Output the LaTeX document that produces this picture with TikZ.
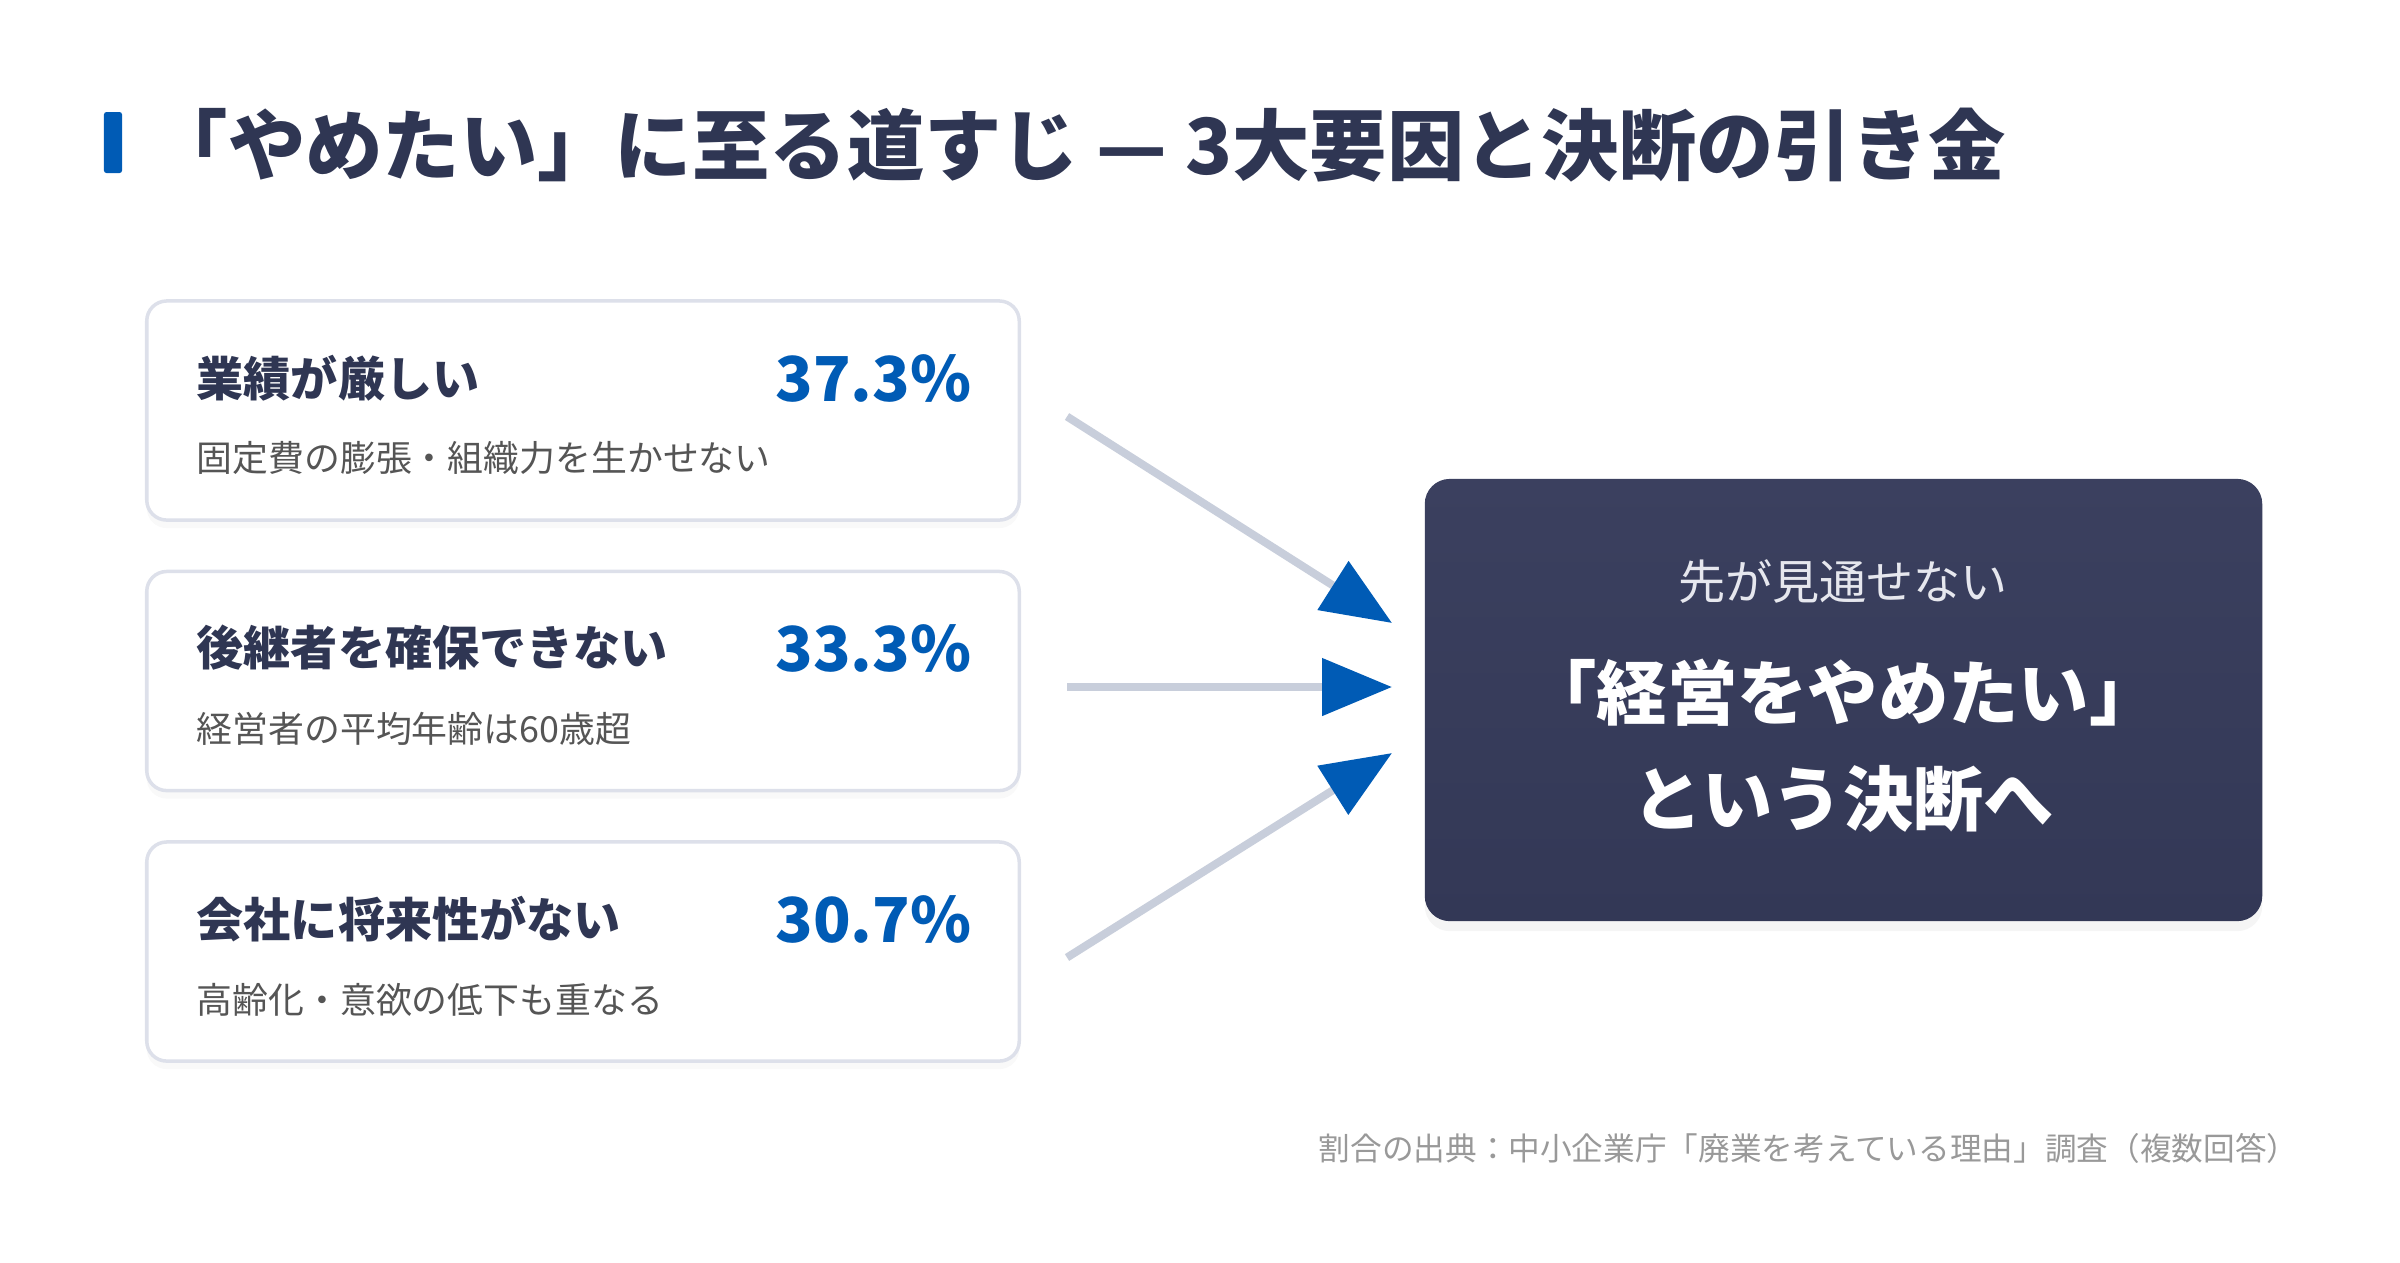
\documentclass[tikz,border=0pt]{standalone}
\usepackage{fontspec}
\setmainfont{Noto Sans CJK JP}
\usetikzlibrary{arrows.meta,shadows,positioning,calc}

\definecolor{navy}{HTML}{2F3653}
\definecolor{accent}{HTML}{005BB5}
\definecolor{cardline}{HTML}{DDE0EA}
\definecolor{flowgray}{HTML}{C8CEDB}
\definecolor{subgray}{HTML}{555555}
\definecolor{notegray}{HTML}{999999}
\definecolor{boxtop}{HTML}{3B405F}
\definecolor{boxbot}{HTML}{333856}
\definecolor{boxsub}{HTML}{E6E7EE}

\tikzset{
  card/.style={draw=cardline, line width=0.035cm, fill=white, rounded corners=0.2cm,
    minimum width=8.72cm, minimum height=2.19cm,
    drop shadow={opacity=0.05, shadow xshift=0pt, shadow yshift=-0.08cm}},
  cardtitle/.style={anchor=west, inner sep=0pt, text=navy, font=\bfseries\fontsize{13.4pt}{16pt}\selectfont},
  cardsub/.style={anchor=west, inner sep=0pt, text=subgray, font=\fontsize{10.2pt}{12pt}\selectfont},
  pct/.style={anchor=east, inner sep=0pt, text=accent, font=\bfseries\fontsize{17.6pt}{21pt}\selectfont},
  flow/.style={draw=flowgray, line width=0.08cm,
    -{Triangle[length=0.7cm, width=0.56cm, color=accent]}},
}

\begin{document}
\begin{tikzpicture}[x=0.01cm, y=-0.01cm]
    \useasboundingbox (0,0) rectangle (2400,1262);

    % Titel
    \node[fill=accent, rounded corners=0.025cm, minimum width=0.18cm, minimum height=0.61cm, inner sep=0pt] (bar) at (113,142.5) {};
    \node[anchor=west, inner sep=0pt, text=navy, font=\bfseries\fontsize{22pt}{26pt}\selectfont] (title) at (150,145) {「やめたい」に至る道すじ — 3大要因と決断の引き金};

    % Drei Ursachen
    \node[card] (card1) at (583,410.5) {};
    \node[cardtitle] (head1) at (196,378) {業績が厳しい};
    \node[pct] (pct1) at (972,378) {37.3\%};
    \node[cardsub] (sub1) at (196,458) {固定費の膨張・組織力を生かせない};

    \node[card] (card2) at (583,681) {};
    \node[cardtitle] (head2) at (196,648) {後継者を確保できない};
    \node[pct] (pct2) at (972,648) {33.3\%};
    \node[cardsub] (sub2) at (196,729) {経営者の平均年齢は60歳超};

    \node[card] (card3) at (583,951.5) {};
    \node[cardtitle] (head3) at (196,919) {会社に将来性がない};
    \node[pct] (pct3) at (972,919) {30.7\%};
    \node[cardsub] (sub3) at (196,1000) {高齢化・意欲の低下も重なる};

    % Entscheidung
    \node[rounded corners=0.25cm, top color=boxtop, bottom color=boxbot, draw=none,
          minimum width=8.37cm, minimum height=4.42cm,
          drop shadow={opacity=0.08, shadow xshift=0pt, shadow yshift=-0.1cm}] (goal) at (1843.5,700) {};
    \node[text=boxsub, font=\fontsize{13.4pt}{16pt}\selectfont] (goalsub) at (1843,582) {先が見通せない};
    \node[text=white, font=\bfseries\fontsize{20pt}{24pt}\selectfont] (goalmain) at (1843,693) {「経営をやめたい」};
    \node[text=white, font=\bfseries\fontsize{20pt}{24pt}\selectfont] (goaltail) at (1843,799) {という決断へ};

    % Pfeile
    \coordinate (in1) at ($(goal.west)+(-32,-77)$);
    \coordinate (in2) at ($(goal.west)+(-32,-13)$);
    \coordinate (in3) at ($(goal.west)+(-32,53)$);
    \draw[flow] ($(card1.east)+(46,6)$) -- (in1);
    \draw[flow] ($(card2.east)+(46,6)$) -- (in2);
    \draw[flow] ($(card3.east)+(46,6)$) -- (in3);

    % Quelle
    \node[anchor=east, inner sep=0pt, text=notegray, font=\fontsize{9pt}{11pt}\selectfont] (note) at (2299,1148) {割合の出典：中小企業庁「廃業を考えている理由」調査（複数回答）};
\end{tikzpicture}
\end{document}
